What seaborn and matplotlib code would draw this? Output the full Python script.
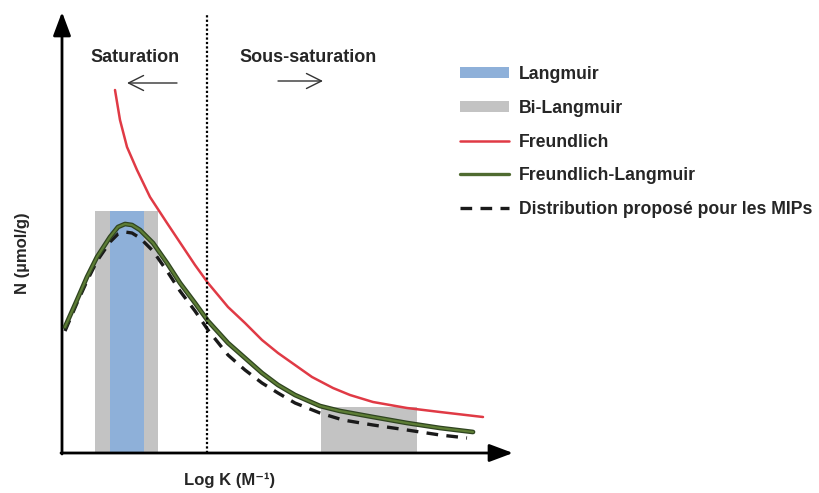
import matplotlib
matplotlib.use("Agg")
import matplotlib.pyplot as plt
import seaborn as sns
import pandas as pd
from matplotlib.patches import Patch
from matplotlib.lines import Line2D
import matplotlib.patheffects as pe

# Data (x = Log K position, y = N height above axis)
freund_x = [115, 120, 127, 137, 150, 167, 183, 195, 208, 228, 245, 262, 278, 295, 312, 333, 350, 373, 407, 440, 483]
freund_y = [363, 333, 306, 283, 256, 230, 206, 188, 170, 146, 130, 113, 100, 88, 76, 65, 58, 51, 45, 41, 36]

fl_x = [65, 77, 87, 97, 110, 118, 125, 132, 140, 153, 167, 180, 195, 208, 228, 245, 262, 278, 295, 320, 340, 373, 407, 440, 473]
fl_y = [126, 153, 176, 196, 216, 226, 229, 228, 223, 210, 190, 170, 150, 132, 110, 95, 80, 68, 58, 47, 42, 36, 30, 25, 21]

mip_x = [65, 77, 87, 97, 110, 118, 125, 132, 140, 153, 167, 180, 195, 208, 228, 245, 262, 278, 295, 320, 343, 373, 407, 440, 467]
mip_y = [122, 150, 172, 192, 211, 219, 221, 220, 215, 202, 182, 162, 142, 123, 98, 83, 70, 60, 50, 40, 33, 28, 23, 18, 15]

# Bars: [left, right, height]
bar_left = [95, 110, 321]
bar_right = [158, 144, 417]
bar_height = [242, 242, 46]
bar_colors = ["#c3c3c3", "#8eb0d9", "#c3c3c3"]

boundary_x = 207

sns.set_theme(style="white")
plt.rcParams.update({'font.family': ['Liberation Sans', 'DejaVu Sans'], 'font.weight': 'bold'})

fig = plt.figure(figsize=(8.19, 4.93), dpi=100)
ax = fig.add_axes([0, 0, 1, 1])
ax.set_xlim(0, 819)
ax.set_ylim(-40, 453)
ax.axis("off")

# bars
for l, r, h, c in zip(bar_left, bar_right, bar_height, bar_colors):
    ax.bar(l, h, width=r - l, align="edge", color=c, linewidth=0, zorder=1)

# curves
df_f = pd.DataFrame({"x": freund_x, "y": freund_y})
df_fl = pd.DataFrame({"x": fl_x, "y": fl_y})
df_m = pd.DataFrame({"x": mip_x, "y": mip_y})
sns.lineplot(data=df_f, x="x", y="y", ax=ax, color="#e03a45", lw=1.8, zorder=3)
sns.lineplot(data=df_m, x="x", y="y", ax=ax, color="#1a1a1a", lw=2.4,
             linestyle=(0, (3.5, 2.5)), zorder=2)
sns.lineplot(data=df_fl, x="x", y="y", ax=ax, color="#5d7d35", lw=1.6, zorder=4,
             path_effects=[pe.Stroke(linewidth=3.4, foreground="#2f4420"), pe.Normal()])

# boundary
ax.plot([boundary_x, boundary_x], [0, 438], color="black", lw=1.6, ls=(0, (1, 1)), zorder=5)

# axes arrows
arrow_kw = dict(arrowstyle="-|>,head_length=1.2,head_width=0.45", color="black", lw=2,
                shrinkA=0, shrinkB=0)
ax.annotate("", xy=(62, 441), xytext=(62, -1), arrowprops=arrow_kw)
ax.annotate("", xy=(513, 0), xytext=(61, 0), arrowprops=arrow_kw)

# labels
ax.text(135, 396, "Saturation", ha="center", va="center", fontsize=13, fontweight="bold")
ax.text(308, 396, "Sous-saturation", ha="center", va="center", fontsize=13, fontweight="bold")
ax.annotate("", xy=(127, 370), xytext=(177, 370),
            arrowprops=dict(arrowstyle="->,head_length=0.9,head_width=0.45", color="#333333", lw=1,
                            shrinkA=0, shrinkB=0))
ax.annotate("", xy=(323, 372), xytext=(278, 372),
            arrowprops=dict(arrowstyle="->,head_length=0.9,head_width=0.45", color="#333333", lw=1,
                            shrinkA=0, shrinkB=0))
ax.text(23, 200, "N (µmol/g)", ha="center", va="center", rotation=90, fontsize=12, fontweight="bold")
ax.text(230, -27, "Log K (M⁻¹)", ha="center", va="center", fontsize=12, fontweight="bold")

# legend
handles = [
    Patch(facecolor="#8eb0d9", linewidth=0, label="Langmuir"),
    Patch(facecolor="#c3c3c3", linewidth=0, label="Bi-Langmuir"),
    Line2D([], [], color="#e03a45", lw=1.8, label="Freundlich"),
    Line2D([], [], color="#4f6b30", lw=2.4, label="Freundlich-Langmuir"),
    Line2D([], [], color="#1a1a1a", lw=2.4, ls=(0, (3.5, 2.5)), label="Distribution proposé pour les MIPs"),
]
leg = ax.legend(handles=handles, loc="upper left", bbox_to_anchor=(460 / 819, 1 - 66 / 493),
                frameon=False, handlelength=2.75, handleheight=0.6, borderpad=0, borderaxespad=0,
                labelspacing=0.95, handletextpad=0.6, prop={'weight': 'bold', 'size': 12.7})

fig.savefig("out.png", dpi=100, facecolor="white")
